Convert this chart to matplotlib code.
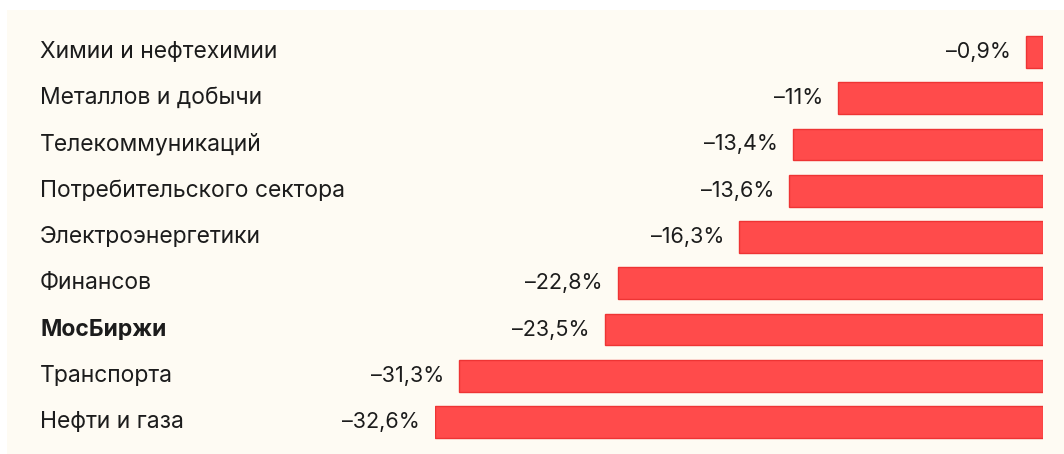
import matplotlib
matplotlib.use('Agg')
import matplotlib.pyplot as plt
import matplotlib.transforms as mtransforms

# --- data (top to bottom) ---
sectors = ["Химии и нефтехимии", "Металлов и добычи", "Телекоммуникаций",
           "Потребительского сектора", "Электроэнергетики", "Финансов",
           "МосБиржи", "Транспорта", "Нефти и газа"]
changes = [-0.9, -11.0, -13.4, -13.6, -16.3, -22.8, -23.5, -31.3, -32.6]
value_labels = ["–0,9%", "–11%", "–13,4%", "–13,6%", "–16,3%",
                "–22,8%", "–23,5%", "–31,3%", "–32,6%"]
bold_sectors = ["МосБиржи"]

plt.rcParams['font.family'] = ['Inter', 'DejaVu Sans']

W, H = 1064, 454
fig = plt.figure(figsize=(W / 100, H / 100), dpi=100, facecolor='white')

# cream panel as a background axes
bg = fig.add_axes([7 / W, 0, 1 - 7 / W, (H - 10) / H])
bg.set_facecolor('#fefbf3')
bg.set_xticks([])
bg.set_yticks([])
for s in bg.spines.values():
    s.set_visible(False)

# axes placement: x=-32.6 at 435px, x=0 at 1043px; rows centred 52..422px
row_top, row_bot = 52, 422
step = (row_bot - row_top) / (len(sectors) - 1)
y_top_px = row_top - step / 2
y_bot_px = row_bot + step / 2
ax = fig.add_axes([435 / W, (H - y_bot_px) / H, 608 / W, (y_bot_px - y_top_px) / H])
ax.set_facecolor('none')

n = len(sectors)
ypos = [n - 1 - i for i in range(n)]
ax.barh(ypos, changes, height=0.69, color='#ff4b4b', edgecolor='#ee3434', linewidth=1)

ax.set_xlim(min(changes), 0)
ax.set_ylim(-0.5, n - 0.5)
ax.axis('off')

# category labels at fixed figure x
trans = mtransforms.blended_transform_factory(fig.transFigure, ax.transData)
for y, name in zip(ypos, sectors):
    ax.text(40 / W, y, name, transform=trans, ha='left', va='center',
            fontsize=16.5, color='#1c1c1c', clip_on=False,
            fontweight='bold' if name in bold_sectors else 'normal')

# value labels left of each bar
offset = mtransforms.offset_copy(ax.transData, fig=fig, x=-15, y=0, units='dots')
for y, v, lab in zip(ypos, changes, value_labels):
    ax.text(v, y, lab, transform=offset, ha='right', va='center',
            fontsize=15.5, color='#1c1c1c', clip_on=False)

fig.savefig('out.png', dpi=100, facecolor=fig.get_facecolor())
